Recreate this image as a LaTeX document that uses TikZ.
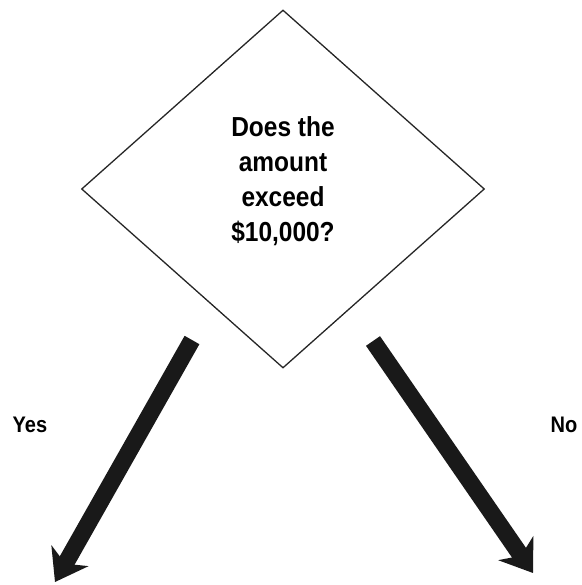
\documentclass[tikz,border=0pt]{standalone}
\usepackage{fontspec}
\setmainfont{Liberation Sans}[FakeStretch=0.89]
\usetikzlibrary{shapes.geometric,arrows.meta}
\begin{document}
\begin{tikzpicture}[x=1pt,y=-1pt,
  decision/.style={draw=black!85, line width=1.3pt, diamond, aspect=1.126,
    minimum width=403pt, minimum height=358pt, inner sep=0pt},
  question/.style={align=center, font=\bfseries\fontsize{27.5}{35}\selectfont},
  answer/.style={font=\bfseries\fontsize{22.5}{25}\selectfont},
  branch/.style={line width=17pt, black!90,
    -{Stealth[length=30pt, width=42pt, inset=9pt]}}]
  \useasboundingbox (0,0) rectangle (581,585);
  \node[decision] (d) at (283,189) {};
  \node[question] (q) at (283,181) {Does the\\amount\\exceed\\\$10,000?};
  \coordinate (yesTail) at (192,340);
  \coordinate (yesTip) at (55,582);
  \coordinate (noTail) at (373,341);
  \coordinate (noTip) at (533,573);
  \draw[branch] (yesTail) -- (yesTip);
  \draw[branch] (noTail) -- (noTip);
  \node[answer] (yes) at (30,425) {Yes};
  \node[answer] (no) at (564,425) {No};
\end{tikzpicture}
\end{document}
